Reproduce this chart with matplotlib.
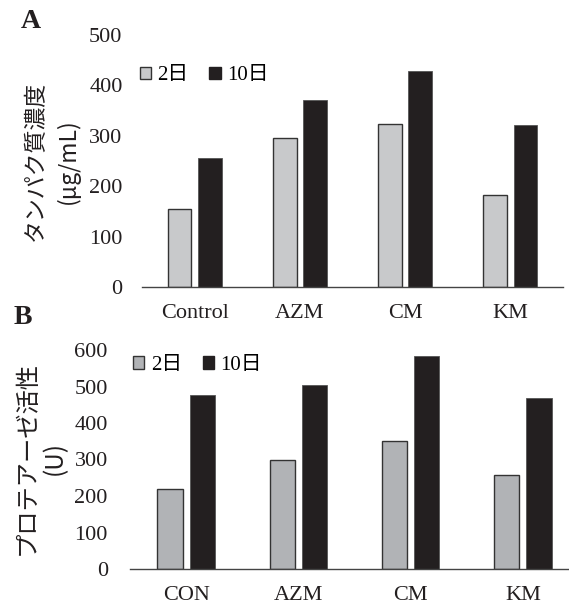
import matplotlib
matplotlib.use("Agg")
import matplotlib.pyplot as plt
import numpy as np
from matplotlib.patches import Patch

# protein concentration (ug/mL)
groups_a = ["Control", "AZM", "CM", "KM"]
protein_day2 = [155, 296, 323, 183]
protein_day10 = [255, 372, 428, 322]

# protease activity (U)
groups_b = ["CON", "AZM", "CM", "KM"]
protease_day2 = [220, 300, 352, 257]
protease_day10 = [478, 503, 584, 468]

legend_labels = ["2日", "10日"]

SERIF = ["Liberation Serif", "Noto Sans CJK JP"]
GOTHIC = ["Noto Sans CJK JP", "DejaVu Sans"]
DARK = "#231f20"

plt.rcParams["font.family"] = SERIF

W, H = 569, 610
fig = plt.figure(figsize=(W / 100, H / 100), dpi=100)


def px_axes(left, right, bottom, top):
    return fig.add_axes([left / W, 1 - bottom / H, (right - left) / W, (bottom - top) / H])


def draw_panel(ax, groups, v2, v10, ymax, light, ytick_pad):
    x = np.arange(len(groups))
    w = 0.225
    ax.bar(x - 0.143, v2, width=w, color=light, edgecolor="#333333", linewidth=1.0)
    ax.bar(x + 0.143, v10, width=w, color=DARK, edgecolor="#555555", linewidth=0.6)
    ax.set_xlim(-0.5, len(groups) - 0.5)
    ax.set_ylim(0, ymax)
    ax.set_yticks(np.arange(0, ymax + 1, 100))
    ax.set_xticks(x)
    ax.set_xticklabels(groups)
    for s in ["top", "right", "left"]:
        ax.spines[s].set_visible(False)
    ax.spines["bottom"].set_color("#444444")
    ax.spines["bottom"].set_linewidth(1.0)
    ax.tick_params(axis="both", length=0, labelsize=16, colors="#231f20")
    ax.tick_params(axis="y", pad=ytick_pad)
    ax.tick_params(axis="x", pad=12)
    handles = [Patch(facecolor=light, edgecolor="#333333", linewidth=1.0),
               Patch(facecolor=DARK, edgecolor=DARK)]
    return handles


# panel A
ax_a = px_axes(142, 563, 287, 35)
h = draw_panel(ax_a, groups_a, protein_day2, protein_day10, 500, "#c8c9cb", 14)
ax_a.legend(h, legend_labels, ncol=2, frameon=False, loc="upper left",
            bbox_to_anchor=(-0.05, 0.95), handlelength=0.55, handleheight=0.55,
            handletextpad=0.3, columnspacing=1.0, prop={"family": SERIF, "size": 15})

# panel B (plot area runs past the right edge)
ax_b = px_axes(130, 579, 569, 350)
h = draw_panel(ax_b, groups_b, protease_day2, protease_day10, 600, "#b1b3b6", 16)
ax_b.legend(h, legend_labels, ncol=2, frameon=False, loc="upper left",
            bbox_to_anchor=(-0.035, 1.06), handlelength=0.55, handleheight=0.55,
            handletextpad=0.3, columnspacing=1.0, prop={"family": SERIF, "size": 15})

# axis titles
fig.text(52 / W, 1 - 161 / H, "タンパク質濃度\n(μg/mL)", rotation=90, ha="center",
         va="center", family=GOTHIC, fontsize=16.5, color=DARK, linespacing=1.45)
fig.text(41 / W, 1 - 458 / H, "プロテアーゼ活性\n(U)", rotation=90, ha="center",
         va="center", family=GOTHIC, fontsize=17.5, color=DARK, linespacing=1.1)

# panel letters
fig.text(21 / W, 1 - 22 / H, "A", fontsize=20, fontweight="bold", family=SERIF,
         ha="left", va="center", color=DARK)
fig.text(14 / W, 1 - 318 / H, "B", fontsize=20, fontweight="bold", family=SERIF,
         ha="left", va="center", color=DARK)

fig.savefig("out.png", dpi=100)
